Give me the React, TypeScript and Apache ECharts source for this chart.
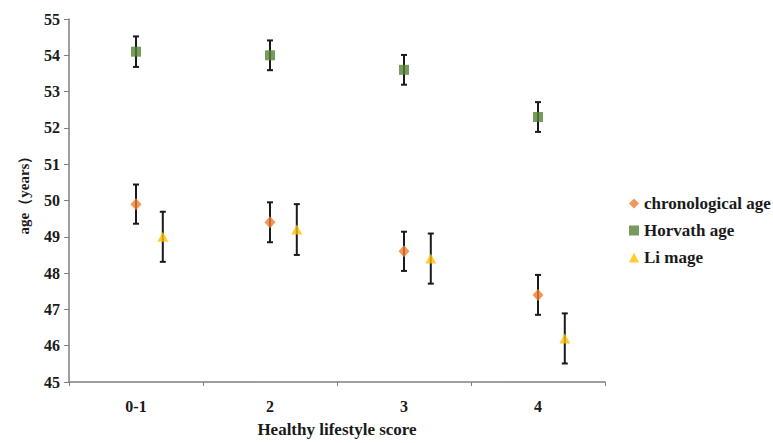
import React, { useEffect, useRef } from "react";
import * as echarts from "echarts";

const categories = ["0-1", "2", "3", "4"];
const chronoAge = [49.9, 49.4, 48.6, 47.4];
const chronoErr = [0.54, 0.55, 0.54, 0.55];
const horvathAge = [54.1, 54.0, 53.6, 52.3];
const horvathErr = [0.42, 0.41, 0.41, 0.41];
const liAge = [49.0, 49.2, 48.4, 46.2];
const liErr = [0.69, 0.7, 0.69, 0.69];
const liOffset = 0.2;

const FONT = "'Liberation Serif', 'Times New Roman', serif";

function points(vals: number[], off: number) {
  return vals.map((v, i) => [i + off, v]);
}
function errs(vals: number[], e: number[], off: number) {
  return vals.map((v, i) => [i + off, v - e[i], v + e[i]]);
}

function errorSeries(data: number[][]) {
  return {
    type: "custom",
    xAxisIndex: 1,
    z: 1,
    silent: true,
    data,
    encode: { x: 0, y: [1, 2] },
    renderItem: (params: any, api: any) => {
      const x = api.value(0);
      const lo = api.coord([x, api.value(1)]);
      const hi = api.coord([x, api.value(2)]);
      const cap = 3;
      const style = { stroke: "#1a1a1a", lineWidth: 2 };
      return {
        type: "group",
        children: [
          { type: "line", shape: { x1: lo[0], y1: lo[1], x2: hi[0], y2: hi[1] }, style },
          { type: "line", shape: { x1: lo[0] - cap, y1: lo[1], x2: lo[0] + cap, y2: lo[1] }, style },
          { type: "line", shape: { x1: hi[0] - cap, y1: hi[1], x2: hi[0] + cap, y2: hi[1] }, style },
        ],
      };
    },
  };
}

export default function App() {
  const ref = useRef<HTMLDivElement>(null);
  useEffect(() => {
    document.body.style.margin = "0";
    if (!ref.current) return;
    const chart = echarts.init(ref.current, null, { renderer: "svg" });
    chart.setOption({
      animation: false,
      backgroundColor: "#ffffff",
      textStyle: { fontFamily: FONT },
      grid: { left: 69, right: 168, top: 19, bottom: 54, containLabel: false },
      legend: {
        orient: "vertical",
        left: 624,
        top: 190,
        itemWidth: 10,
        itemHeight: 10,
        itemGap: 10,
        textStyle: { fontFamily: FONT, fontWeight: "bold", fontSize: 17, color: "#1a1a1a", lineHeight: 17 },
        data: ["chronological age", "Horvath age", "Li mage"],
      },
      xAxis: [
        {
          type: "category",
          data: categories,
          boundaryGap: true,
          name: "Healthy lifestyle score",
          nameLocation: "middle",
          nameGap: 39,
          nameTextStyle: { fontFamily: FONT, fontWeight: "bold", fontSize: 17, color: "#1a1a1a" },
          axisLine: { lineStyle: { color: "#7f7f7f", width: 1.5 } },
          axisTick: { show: true, length: 4, lineStyle: { color: "#7f7f7f" } },
          axisLabel: { fontFamily: FONT, fontWeight: "bold", fontSize: 16, color: "#1a1a1a", margin: 16 },
          splitLine: { show: false },
        },
        {
          type: "value",
          min: -0.5,
          max: 3.5,
          show: false,
          position: "bottom",
        },
      ],
      yAxis: {
        type: "value",
        min: 45,
        max: 55,
        interval: 1,
        name: "age（years）",
        nameLocation: "middle",
        nameGap: 38,
        nameTextStyle: { fontFamily: FONT, fontWeight: "bold", fontSize: 15, color: "#1a1a1a", padding: [0, 0, 0, 18] },
        axisLine: { show: true, onZero: false, lineStyle: { color: "#7f7f7f", width: 1.5 } },
        axisTick: { show: true, length: 5, lineStyle: { color: "#7f7f7f" } },
        axisLabel: { fontFamily: FONT, fontWeight: "bold", fontSize: 16, color: "#1a1a1a", margin: 9 },
        splitLine: { show: false },
      },
      series: [
        errorSeries(errs(chronoAge, chronoErr, 0)),
        errorSeries(errs(horvathAge, horvathErr, 0)),
        errorSeries(errs(liAge, liErr, liOffset)),
        {
          name: "chronological age",
          type: "scatter",
          xAxisIndex: 1,
          z: 5,
          symbol: "diamond",
          symbolSize: [11, 12],
          itemStyle: { color: "#ED7D31" },
          data: points(chronoAge, 0),
        },
        {
          name: "Horvath age",
          type: "scatter",
          xAxisIndex: 1,
          z: 5,
          symbol: "rect",
          symbolSize: 10,
          itemStyle: { color: "#548235" },
          data: points(horvathAge, 0),
        },
        {
          name: "Li mage",
          type: "scatter",
          xAxisIndex: 1,
          z: 5,
          symbol: "triangle",
          symbolSize: [11, 10],
          itemStyle: { color: "#FFC000" },
          data: points(liAge, liOffset),
        },
      ],
    });
    return () => chart.dispose();
  }, []);
  return <div ref={ref} style={{ width: 773, height: 443 }} />;
}
